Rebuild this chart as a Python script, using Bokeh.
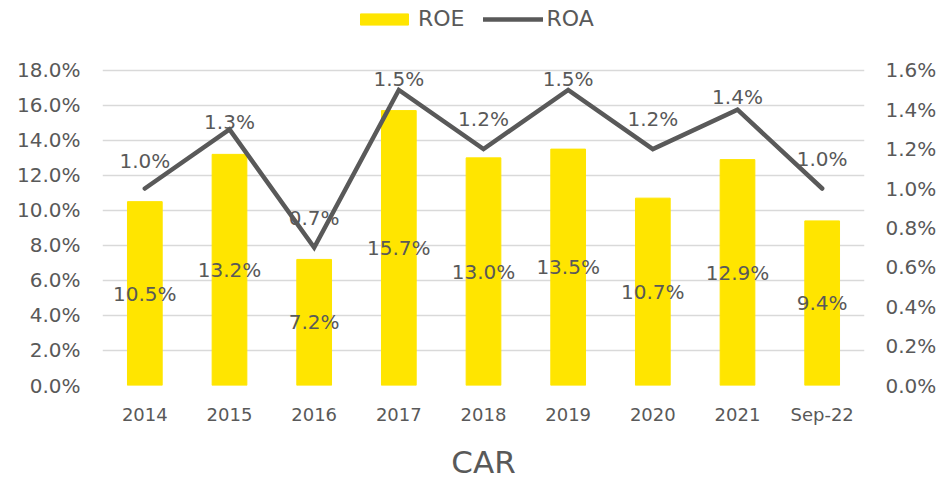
from bokeh.plotting import figure
from bokeh.models import (ColumnDataSource, Range1d, FactorRange, LinearAxis, LabelSet,
                          Legend, LegendItem, FixedTicker)
from bokeh.core.properties import value
from bokeh.embed import file_html
from bokeh.resources import INLINE

categories = ["2014", "2015", "2016", "2017", "2018", "2019", "2020", "2021", "Sep-22"]
roe = [10.5, 13.2, 7.2, 15.7, 13.0, 13.5, 10.7, 12.9, 9.4]
roa = [1.0, 1.3, 0.7, 1.5, 1.2, 1.5, 1.2, 1.4, 1.0]
left_ticks = [0, 2, 4, 6, 8, 10, 12, 14, 16, 18]
right_ticks = [0.0, 0.2, 0.4, 0.6, 0.8, 1.0, 1.2, 1.4, 1.6]

# styling: pixel offsets of the ROA labels above their points
roa_label_offsets = [28, 7, 30, 11, 30, 11, 30, 13, 30]

FONT = "DejaVu Sans"
TXT = "#595959"
YELLOW = "#FFE500"
LINE = "#595959"

# layout: the frame reaches to the top of the figure so the legend can sit inside it;
# the axes' 18% / 1.6% lines stay 316 px above the baseline
FRAME_H = 386.0
SCALE_H = 316.0
LEFT_MAX = 18 * FRAME_H / SCALE_H
RIGHT_MAX = 1.6 * FRAME_H / SCALE_H

src = ColumnDataSource(dict(
    cat=categories,
    roe=roe,
    roe_mid=[v / 2 for v in roe],
    roe_lbl=[f"{v:.1f}%" for v in roe],
    roa=roa,
    roa_lbl=[f"{v:.1f}%" for v in roa],
    roa_off=roa_label_offsets,
))

p = figure(width=945, height=482, x_range=FactorRange(*categories, range_padding=0),
           y_range=Range1d(0, LEFT_MAX), output_backend="svg", toolbar_location=None,
           min_border_left=102, min_border_right=81, min_border_top=0, min_border_bottom=96)
p.outline_line_color = None
p.background_fill_color = "white"
p.border_fill_color = "white"
p.extra_y_ranges = {"roa": Range1d(0, RIGHT_MAX)}

bars = p.vbar(x="cat", top="roe", width=0.41, color=YELLOW, source=src)
line = p.line(x="cat", y="roa", y_range_name="roa", line_color=LINE, line_width=4.5,
              line_cap="round", line_join="miter", source=src)

p.add_layout(LabelSet(x="cat", y="roe_mid", text="roe_lbl", source=src, text_align="center",
                      text_baseline="middle", text_font=value(FONT), text_font_size="20px",
                      text_color=TXT))
p.add_layout(LabelSet(x="cat", y="roa", y_range_name="roa", text="roa_lbl", source=src,
                      y_offset="roa_off", text_align="center", text_baseline="middle",
                      text_font=value(FONT), text_font_size="20px", text_color=TXT))

# axes
p.yaxis.ticker = FixedTicker(ticks=left_ticks)
p.yaxis.major_label_overrides = {t: f"{t:.1f}%" for t in left_ticks}
ra = LinearAxis(y_range_name="roa", ticker=FixedTicker(ticks=right_ticks))
ra.major_label_overrides = {t: f"{t:.1f}%" for t in right_ticks}
p.add_layout(ra, "right")

for ax in [p.yaxis[0], ra, p.xaxis[0]]:
    ax.axis_line_color = None
    ax.major_tick_line_color = None
    ax.minor_tick_line_color = None
    ax.major_label_text_font = FONT
    ax.major_label_text_font_size = "20px"
    ax.major_label_text_color = TXT
p.xaxis.major_label_text_font_size = "18px"
p.yaxis[0].major_label_standoff = 16
ra.major_label_standoff = 15
p.xaxis.major_label_standoff = 12
p.xaxis.axis_label = "CAR"
p.xaxis.axis_label_text_font = FONT
p.xaxis.axis_label_text_font_size = "31px"
p.xaxis.axis_label_text_font_style = "normal"
p.xaxis.axis_label_text_color = TXT
p.xaxis.axis_label_standoff = 16

p.xgrid.grid_line_color = None
p.ygrid.grid_line_color = "#D9D9D9"
p.ygrid.grid_line_width = 1.5

legend = Legend(items=[LegendItem(label="ROE", renderers=[bars]),
                       LegendItem(label="ROA", renderers=[line])],
                orientation="horizontal", location=(252, 354),
                glyph_width=60, glyph_height=14, label_text_font=FONT,
                label_text_font_size="22px", label_text_color=TXT,
                border_line_color=None, background_fill_alpha=0,
                spacing=18, label_standoff=4, padding=4, margin=0)
p.add_layout(legend, "center")

open("out.html", "w").write(file_html(p, INLINE))
